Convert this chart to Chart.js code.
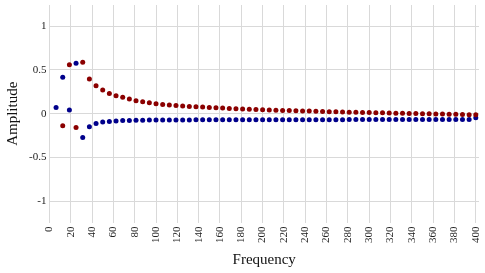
<!DOCTYPE html>
<html>
<head>
<meta charset="utf-8">
<script src="https://cdn.jsdelivr.net/npm/chart.js@4/dist/chart.umd.min.js"></script>
<style>
  html, body { margin: 0; padding: 0; background: #fff; }
  #wrap { width: 485px; height: 273px; position: relative; }
</style>
</head>
<body>
<div id="wrap"><canvas id="chart"></canvas></div>
<script>
// Frequency bins (x values)
const frequencies = [
    6.25, 12.5, 18.75, 25, 31.25, 37.5, 43.75, 50,
    56.25, 62.5, 68.75, 75, 81.25, 87.5, 93.75, 100,
    106.25, 112.5, 118.75, 125, 131.25, 137.5, 143.75, 150,
    156.25, 162.5, 168.75, 175, 181.25, 187.5, 193.75, 200,
    206.25, 212.5, 218.75, 225, 231.25, 237.5, 243.75, 250,
    256.25, 262.5, 268.75, 275, 281.25, 287.5, 293.75, 300,
    306.25, 312.5, 318.75, 325, 331.25, 337.5, 343.75, 350,
    356.25, 362.5, 368.75, 375, 381.25, 387.5, 393.75, 400
];

// Red series
const redValues = [
    null, -0.137, 0.56, -0.157, 0.587, 0.397, 0.32, 0.27,
    0.232, 0.206, 0.187, 0.168, 0.149, 0.137, 0.126, 0.114,
    0.106, 0.1, 0.094, 0.088, 0.084, 0.08, 0.076, 0.072,
    0.069, 0.065, 0.061, 0.057, 0.054, 0.051, 0.048, 0.046,
    0.043, 0.041, 0.038, 0.036, 0.034, 0.032, 0.03, 0.028,
    0.026, 0.024, 0.022, 0.02, 0.018, 0.016, 0.015, 0.013,
    0.011, 0.01, 0.008, 0.007, 0.005, 0.004, 0.002, 0.001,
    -0.001, -0.002, -0.004, -0.005, -0.007, -0.008, -0.01, -0.012
];

// Blue series
const blueValues = [
    0.072, 0.415, 0.042, 0.575, -0.271, -0.149, -0.111, -0.095,
    -0.088, -0.082, -0.078, -0.076, -0.074, -0.073, -0.072, -0.071,
    -0.071, -0.07, -0.07, -0.07, -0.07, -0.069, -0.069, -0.069,
    -0.069, -0.069, -0.068, -0.068, -0.068, -0.068, -0.068, -0.068,
    -0.067, -0.067, -0.067, -0.067, -0.067, -0.067, -0.067, -0.067,
    -0.067, -0.067, -0.067, -0.067, -0.066, -0.066, -0.066, -0.066,
    -0.066, -0.066, -0.066, -0.066, -0.066, -0.066, -0.066, -0.066,
    -0.066, -0.066, -0.066, -0.066, -0.066, -0.066, -0.066, -0.046
];

const xTicks = [0, 20, 40, 60, 80, 100, 120, 140, 160, 180, 200,
                220, 240, 260, 280, 300, 320, 340, 360, 380, 400];
const yTicks = [-1, -0.5, 0, 0.5, 1];

function toPoints(values) {
    return frequencies.map((f, i) => ({ x: f, y: values[i] }));
}

const serif = '"Liberation Serif", "DejaVu Serif", serif';
Chart.defaults.font.family = serif;

new Chart(document.getElementById('chart'), {
    type: 'scatter',
    data: {
        datasets: [
            {
                label: 'red',
                data: toPoints(redValues),
                backgroundColor: '#8b0000',
                borderColor: '#8b0000',
                pointRadius: 2.5,
                pointBorderWidth: 0
            },
            {
                label: 'blue',
                data: toPoints(blueValues),
                backgroundColor: '#00008b',
                borderColor: '#00008b',
                pointRadius: 2.5,
                pointBorderWidth: 0
            }
        ]
    },
    options: {
        responsive: true,
        maintainAspectRatio: false,
        animation: false,
        layout: { padding: { top: 5, right: 0, left: 4, bottom: 4 } },
        plugins: {
            legend: { display: false },
            tooltip: { enabled: false }
        },
        scales: {
            x: {
                type: 'linear',
                min: 0,
                max: 403,
                afterBuildTicks: axis => { axis.ticks = xTicks.map(v => ({ value: v })); },
                afterFit: axis => { axis.paddingRight = 6; },
                border: { display: false },
                grid: { color: '#d9d9d9', drawTicks: false },
                ticks: {
                    minRotation: 90,
                    maxRotation: 90,
                    padding: 4,
                    color: '#222',
                    font: { family: serif, size: 11 }
                },
                title: {
                    display: true,
                    text: 'Frequency',
                    color: '#111',
                    font: { family: serif, size: 15 },
                    padding: { top: 4, bottom: 0 }
                }
            },
            y: {
                min: -1.24,
                max: 1.24,
                afterBuildTicks: axis => { axis.ticks = yTicks.map(v => ({ value: v })); },
                afterFit: axis => { axis.paddingTop = 0; axis.paddingBottom = 0; },
                border: { display: false },
                grid: { color: '#d9d9d9', drawTicks: false },
                ticks: {
                    padding: 3,
                    color: '#222',
                    font: { family: serif, size: 11 },
                    callback: v => String(v)
                },
                title: {
                    display: true,
                    text: 'Amplitude',
                    color: '#111',
                    font: { family: serif, size: 15 },
                    padding: { top: 0, bottom: 4 }
                }
            }
        }
    }
});
</script>
</body>
</html>
